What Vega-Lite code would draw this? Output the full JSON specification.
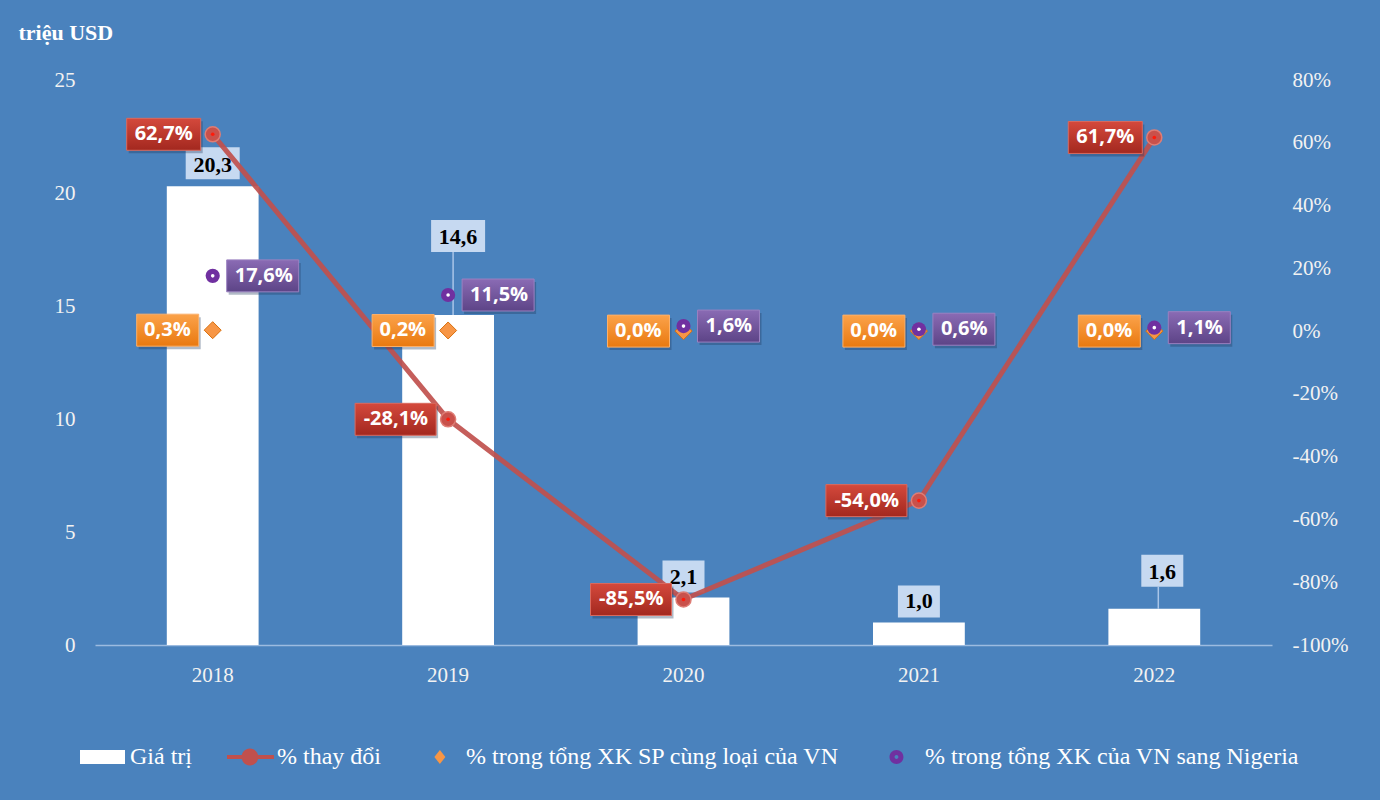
{
  "$schema": "https://vega.github.io/schema/vega-lite/v6.json",
  "width": 1177,
  "height": 565,
  "autosize": {"type": "none"},
  "padding": {"left": 95, "top": 80, "right": 108, "bottom": 155},
  "background": "#4a82bd",
  "data": {
    "values": [
      {"year": "2018", "value": 20.3, "change": 0.627, "share_sp": 0.003, "share_ng": 0.176},
      {"year": "2019", "value": 14.6, "change": -0.281, "share_sp": 0.002, "share_ng": 0.115},
      {"year": "2020", "value": 2.1, "change": -0.855, "share_sp": 0.0, "share_ng": 0.016},
      {"year": "2021", "value": 1.0, "change": -0.54, "share_sp": 0.0, "share_ng": 0.006},
      {"year": "2022", "value": 1.6, "change": 0.617, "share_sp": 0.0, "share_ng": 0.011}
    ]
  },
  "encoding": {
    "x": {
      "field": "year",
      "type": "nominal",
      "scale": {"paddingInner": 0.61, "paddingOuter": 0.305},
      "axis": {
        "title": null,
        "labelAngle": 0,
        "domain": true,
        "domainColor": "#9cbbe0",
        "domainWidth": 1.5,
        "ticks": false,
        "grid": false,
        "labelPadding": 19,
        "labelFont": "Liberation Serif",
        "labelFontSize": 21,
        "labelColor": "#f2f2f2"
      }
    }
  },
  "layer": [
    {
      "encoding": {
        "y": {
          "field": "value",
          "type": "quantitative",
          "scale": {"domain": [0, 25], "nice": false, "zero": true},
          "axis": {
            "orient": "left",
            "values": [0, 5, 10, 15, 20, 25],
            "format": ".0f",
            "domain": false,
            "ticks": false,
            "grid": false,
            "labelPadding": 20,
            "labelFont": "Liberation Serif",
            "labelFontSize": 21,
            "labelColor": "#f2f2f2",
            "title": "triệu USD",
            "titleAngle": 0,
            "titleAlign": "left",
            "titleBaseline": "middle",
            "titleX": -77,
            "titleY": -48,
            "titleFont": "Liberation Serif",
            "titleFontWeight": "bold",
            "titleFontSize": 22,
            "titleColor": "#ffffff"
          }
        }
      },
      "layer": [
        {
          "mark": {"type": "bar"},
          "encoding": {
            "color": {
              "datum": "Giá trị",
              "type": "nominal",
              "scale": {
                "domain": ["Giá trị", "% thay đổi", "% trong tổng XK SP cùng loại của VN", "% trong tổng XK của VN sang Nigeria"],
                "range": ["#ffffff", "#c0504d", "#f79646", "#7030a0"]
              },
              "legend": {
                "orient": "none",
                "legendX": -18,
                "legendY": 653,
                "direction": "horizontal",
                "columns": 4,
                "title": null,
                "padding": 0,
                "labelFont": "Liberation Serif",
                "labelFontSize": 24,
                "labelColor": "#ffffff",
                "labelLimit": 600,
                "labelOffset": 5,
                "columnPadding": 32,
                "symbolSize": 2304,
                "symbolStrokeWidth": 0,
                "encode": {
                  "symbols": {
                    "update": {
                      "shape": {"signal": "datum.value === 'Giá trị' ? 'M-0.875,-0.29H1V0.29H-0.875Z' : datum.value === '% thay đổi' ? 'M-0.875,-0.085H1.08V0.085H-0.875Z M-0.27,0A0.35,0.35 0 1,1 0.43,0A0.35,0.35 0 1,1 -0.27,0Z' : datum.value === '% trong tổng XK SP cùng loại của VN' ? 'M0.12,-0.29L0.35,0L0.12,0.29L-0.11,0Z' : 'M-0.27,0A0.29,0.29 0 1,1 0.31,0A0.29,0.29 0 1,1 -0.27,0Z M-0.06,0A0.08,0.08 0 1,0 0.1,0A0.08,0.08 0 1,0 -0.06,0Z'"},
                      "fill": {"signal": "datum.value === 'Giá trị' ? '#ffffff' : datum.value === '% thay đổi' ? '#c8524c' : datum.value === '% trong tổng XK SP cùng loại của VN' ? '#f79646' : '#7030a0'"},
                      "strokeWidth": {"value": 0},
                      "opacity": {"value": 1}
                    }
                  }
                }
              }
            }
          }
        },
        {
          "transform": [{"filter": {"field": "year", "oneOf": ["2019"]}}],
          "mark": {"type": "rule", "xOffset": 5, "y2Offset": -63, "color": "#a9c5e8", "strokeWidth": 1.5},
          "encoding": {"y2": {"field": "value"}}
        },
        {
          "transform": [{"filter": {"field": "year", "oneOf": ["2022"]}}],
          "mark": {"type": "rule", "xOffset": 4, "y2Offset": -22, "color": "#a9c5e8", "strokeWidth": 1.5},
          "encoding": {"y2": {"field": "value"}}
        },
        {
          "transform": [{"filter": {"field": "year", "oneOf": ["2018"]}}],
          "mark": {"type": "point", "filled": true, "shape": "M-1,-0.593H1V0.593H-1Z", "size": 2916, "yOffset": -23, "fill": "#c6d9f1", "opacity": 1, "strokeWidth": 0}
        },
        {
          "transform": [{"filter": {"field": "year", "oneOf": ["2020", "2021"]}}],
          "mark": {"type": "point", "filled": true, "shape": "M-1,-0.762H1V0.762H-1Z", "size": 1764, "yOffset": -21, "fill": "#c6d9f1", "opacity": 1, "strokeWidth": 0}
        },
        {
          "transform": [{"filter": {"field": "year", "oneOf": ["2019"]}}],
          "mark": {"type": "point", "filled": true, "shape": "M-1,-0.593H1V0.593H-1Z", "size": 2916, "xOffset": 10, "yOffset": -79, "fill": "#c6d9f1", "opacity": 1, "strokeWidth": 0}
        },
        {
          "transform": [{"filter": {"field": "year", "oneOf": ["2022"]}}],
          "mark": {"type": "point", "filled": true, "shape": "M-1,-0.762H1V0.762H-1Z", "size": 1764, "xOffset": 8, "yOffset": -38, "fill": "#c6d9f1", "opacity": 1, "strokeWidth": 0}
        },
        {
          "transform": [{"filter": {"field": "year", "oneOf": ["2018", "2020", "2021"]}}],
          "mark": {"type": "text", "align": "center", "baseline": "middle", "yOffset": -21, "font": "Liberation Serif", "fontWeight": "bold", "fontSize": 22, "fill": "#000000"},
          "encoding": {"text": {"field": "value", "type": "quantitative", "format": ".1f"}}
        },
        {
          "transform": [{"filter": {"field": "year", "oneOf": ["2019"]}}],
          "mark": {"type": "text", "align": "center", "baseline": "middle", "xOffset": 10, "yOffset": -78, "font": "Liberation Serif", "fontWeight": "bold", "fontSize": 22, "fill": "#000000"},
          "encoding": {"text": {"field": "value", "type": "quantitative", "format": ".1f"}}
        },
        {
          "transform": [{"filter": {"field": "year", "oneOf": ["2022"]}}],
          "mark": {"type": "text", "align": "center", "baseline": "middle", "xOffset": 8, "yOffset": -37, "font": "Liberation Serif", "fontWeight": "bold", "fontSize": 22, "fill": "#000000"},
          "encoding": {"text": {"field": "value", "type": "quantitative", "format": ".1f"}}
        }
      ]
    },
    {
      "layer": [
        {
          "mark": {"type": "line", "strokeWidth": 5, "opacity": 0.92},
          "encoding": {
            "y": {
              "field": "change",
              "type": "quantitative",
              "title": null,
              "scale": {"domain": [-1, 0.8], "nice": false, "zero": false},
              "axis": {
                "orient": "right",
                "values": [-1, -0.8, -0.6, -0.4, -0.2, 0, 0.2, 0.4, 0.6, 0.8],
                "format": ".0%",
                "domain": false,
                "ticks": false,
                "grid": false,
                "labelPadding": 20,
                "labelFont": "Liberation Serif",
                "labelFontSize": 21,
                "labelColor": "#f2f2f2",
                "title": null
              }
            },
            "color": {"datum": "% thay đổi", "type": "nominal"}
          }
        },
        {
          "mark": {"type": "point", "filled": true, "shape": "circle", "size": 227, "fill": "#c9514b", "stroke": "#de7d75", "strokeWidth": 1.5, "opacity": 1},
          "encoding": {"y": {"field": "change", "type": "quantitative", "title": null}}
        },
        {
          "mark": {"type": "point", "filled": true, "shape": "circle", "size": 13, "fill": "#ff1a0a", "opacity": 1, "strokeWidth": 0},
          "encoding": {"y": {"field": "change", "type": "quantitative", "title": null}}
        },
        {
          "mark": {"type": "point", "filled": true, "shape": "M0,-1L1,0L0,1L-1,0Z", "size": 289, "stroke": "#d9700e", "strokeWidth": 1, "opacity": 1},
          "encoding": {
            "y": {"field": "share_sp", "type": "quantitative", "title": null},
            "color": {"datum": "% trong tổng XK SP cùng loại của VN", "type": "nominal"}
          }
        },
        {
          "mark": {"type": "point", "filled": true, "shape": "circle", "size": 201, "opacity": 1, "strokeWidth": 0},
          "encoding": {
            "y": {"field": "share_ng", "type": "quantitative", "title": null},
            "color": {"datum": "% trong tổng XK của VN sang Nigeria", "type": "nominal"}
          }
        },
        {
          "mark": {"type": "point", "filled": true, "shape": "circle", "size": 13, "fill": "#ffffff", "opacity": 1, "strokeWidth": 0},
          "encoding": {"y": {"field": "share_ng", "type": "quantitative", "title": null}}
        },
        {
          "transform": [{"filter": "datum.change >= 0"}],
          "mark": {"type": "point", "filled": true, "shape": "M-2,-0.432H0V0.432H-2Z", "size": 5476, "xOffset": -10, "yOffset": 3, "fill": "#1f3a5c", "opacity": 0.35, "strokeWidth": 0},
          "encoding": {"y": {"field": "change", "type": "quantitative", "title": null}}
        },
        {
          "transform": [{"filter": "datum.change < 0"}],
          "mark": {"type": "point", "filled": true, "shape": "M-2,-0.395H0V0.395H-2Z", "size": 6561, "xOffset": -10, "yOffset": 3, "fill": "#1f3a5c", "opacity": 0.35, "strokeWidth": 0},
          "encoding": {"y": {"field": "change", "type": "quantitative", "title": null}}
        },
        {
          "transform": [{"filter": "datum.change >= 0"}],
          "mark": {"type": "point", "filled": true, "shape": "M-2,-0.432H0V0.432H-2Z", "size": 5476, "xOffset": -12, "stroke": "#d96a5f", "strokeWidth": 1, "opacity": 1,
            "fill": {"gradient": "linear", "x1": 0, "y1": 0, "x2": 0, "y2": 1, "stops": [{"offset": 0, "color": "#d4493c"}, {"offset": 1, "color": "#a3281f"}]}},
          "encoding": {"y": {"field": "change", "type": "quantitative", "title": null}}
        },
        {
          "transform": [{"filter": "datum.change < 0"}],
          "mark": {"type": "point", "filled": true, "shape": "M-2,-0.395H0V0.395H-2Z", "size": 6561, "xOffset": -12, "stroke": "#d96a5f", "strokeWidth": 1, "opacity": 1,
            "fill": {"gradient": "linear", "x1": 0, "y1": 0, "x2": 0, "y2": 1, "stops": [{"offset": 0, "color": "#d4493c"}, {"offset": 1, "color": "#a3281f"}]}},
          "encoding": {"y": {"field": "change", "type": "quantitative", "title": null}}
        },
        {
          "mark": {"type": "text", "align": "right", "baseline": "middle", "xOffset": -20, "font": "Open Sans", "fontWeight": "bold", "fontSize": 20, "fill": "#ffffff"},
          "encoding": {
            "y": {"field": "change", "type": "quantitative", "title": null},
            "text": {"field": "change", "type": "quantitative", "format": ".1%"}
          }
        },
        {
          "mark": {"type": "point", "filled": true, "shape": "M-2,-0.516H0V0.516H-2Z", "size": 3844, "xOffset": -12, "yOffset": 3, "fill": "#1f3a5c", "opacity": 0.35, "strokeWidth": 0},
          "encoding": {"y": {"field": "share_sp", "type": "quantitative", "title": null}}
        },
        {
          "mark": {"type": "point", "filled": true, "shape": "M-2,-0.516H0V0.516H-2Z", "size": 3844, "xOffset": -14, "stroke": "#fbb06a", "strokeWidth": 1, "opacity": 1,
            "fill": {"gradient": "linear", "x1": 0, "y1": 0, "x2": 0, "y2": 1, "stops": [{"offset": 0, "color": "#fba24a"}, {"offset": 1, "color": "#e9790f"}]}},
          "encoding": {"y": {"field": "share_sp", "type": "quantitative", "title": null}}
        },
        {
          "mark": {"type": "text", "align": "right", "baseline": "middle", "xOffset": -22, "font": "Open Sans", "fontWeight": "bold", "fontSize": 20, "fill": "#ffffff"},
          "encoding": {
            "y": {"field": "share_sp", "type": "quantitative", "title": null},
            "text": {"field": "share_sp", "type": "quantitative", "format": ".1%"}
          }
        },
        {
          "transform": [{"filter": "datum.share_ng >= 0.1"}],
          "mark": {"type": "point", "filled": true, "shape": "M0,-0.444H2V0.444H0Z", "size": 5184, "xOffset": 16, "yOffset": 3, "fill": "#1f3a5c", "opacity": 0.35, "strokeWidth": 0},
          "encoding": {"y": {"field": "share_ng", "type": "quantitative", "title": null}}
        },
        {
          "transform": [{"filter": "datum.share_ng < 0.1"}],
          "mark": {"type": "point", "filled": true, "shape": "M0,-0.516H2V0.516H0Z", "size": 3844, "xOffset": 16, "yOffset": 3, "fill": "#1f3a5c", "opacity": 0.35, "strokeWidth": 0},
          "encoding": {"y": {"field": "share_ng", "type": "quantitative", "title": null}}
        },
        {
          "transform": [{"filter": "datum.share_ng >= 0.1"}],
          "mark": {"type": "point", "filled": true, "shape": "M0,-0.444H2V0.444H0Z", "size": 5184, "xOffset": 14, "stroke": "#9a80c0", "strokeWidth": 1, "opacity": 1,
            "fill": {"gradient": "linear", "x1": 0, "y1": 0, "x2": 0, "y2": 1, "stops": [{"offset": 0, "color": "#8a6bb4"}, {"offset": 1, "color": "#5d4487"}]}},
          "encoding": {"y": {"field": "share_ng", "type": "quantitative", "title": null}}
        },
        {
          "transform": [{"filter": "datum.share_ng < 0.1"}],
          "mark": {"type": "point", "filled": true, "shape": "M0,-0.516H2V0.516H0Z", "size": 3844, "xOffset": 14, "stroke": "#9a80c0", "strokeWidth": 1, "opacity": 1,
            "fill": {"gradient": "linear", "x1": 0, "y1": 0, "x2": 0, "y2": 1, "stops": [{"offset": 0, "color": "#8a6bb4"}, {"offset": 1, "color": "#5d4487"}]}},
          "encoding": {"y": {"field": "share_ng", "type": "quantitative", "title": null}}
        },
        {
          "mark": {"type": "text", "align": "left", "baseline": "middle", "xOffset": 22, "font": "Open Sans", "fontWeight": "bold", "fontSize": 20, "fill": "#ffffff"},
          "encoding": {
            "y": {"field": "share_ng", "type": "quantitative", "title": null},
            "text": {"field": "share_ng", "type": "quantitative", "format": ".1%"}
          }
        }
      ]
    }
  ],
  "resolve": {"scale": {"y": "independent"}},
  "config": {
    "view": {"stroke": null},
    "locale": {
      "number": {"decimal": ",", "thousands": ".", "grouping": [3], "currency": ["", ""], "minus": "-"}
    }
  }
}
